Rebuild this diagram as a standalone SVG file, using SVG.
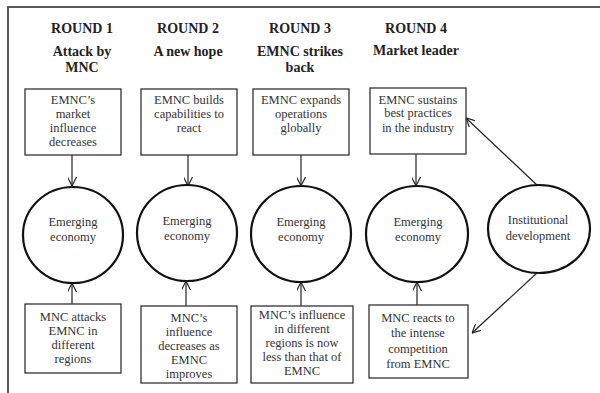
<svg xmlns="http://www.w3.org/2000/svg" width="600" height="393" viewBox="0 0 600 393">
<style>
.frame{fill:none;stroke:#5a5a5a;stroke-width:2}
.box{fill:#fff;stroke:#333;stroke-width:1.3}
.ell{fill:#fff;stroke:#111;stroke-width:2.2}
text{font-family:'Liberation Serif','Times New Roman',serif}
.t{font-size:12.5px;fill:#333;text-anchor:middle}
.h{font-size:14px;font-weight:bold;fill:#222;text-anchor:middle}
.c{fill:none;stroke:#222;stroke-width:1.2}
</style>
<defs>
<marker id="arr" viewBox="0 0 10 10" refX="10" refY="5" markerWidth="9" markerHeight="9" markerUnits="userSpaceOnUse" orient="auto">
<path d="M0,0 L10,5 L0,10" fill="none" stroke="#222" stroke-width="1.3"/>
</marker>
</defs>
<rect width="600" height="393" fill="#fff"/>
<path class="frame" d="M8,393 V7 H600"/>

<g id="titles">
<text class="h" x="82" y="33">ROUND 1</text>
<text class="h" x="82" y="56">Attack by</text>
<text class="h" x="82" y="72">MNC</text>
<text class="h" x="188" y="33">ROUND 2</text>
<text class="h" x="188" y="56">A new hope</text>
<text class="h" x="300" y="33">ROUND 3</text>
<text class="h" x="300" y="56">EMNC strikes</text>
<text class="h" x="300" y="72">back</text>
<text class="h" x="416" y="33">ROUND 4</text>
<text class="h" x="416" y="55">Market leader</text>
</g>

<g id="connectors">
<line class="c" x1="72" y1="155" x2="72" y2="186" marker-end="url(#arr)"/>
<line class="c" x1="188" y1="155" x2="188" y2="186" marker-end="url(#arr)"/>
<line class="c" x1="301" y1="155" x2="301" y2="186" marker-end="url(#arr)"/>
<line class="c" x1="416" y1="154" x2="416" y2="186" marker-end="url(#arr)"/>
<line class="c" x1="72" y1="304" x2="72" y2="283" marker-end="url(#arr)"/>
<line class="c" x1="186" y1="306" x2="186" y2="281" marker-end="url(#arr)"/>
<line class="c" x1="301" y1="306" x2="301" y2="282" marker-end="url(#arr)"/>
<line class="c" x1="417" y1="305" x2="417" y2="282" marker-end="url(#arr)"/>
<line class="c" x1="538" y1="186" x2="466" y2="118" marker-end="url(#arr)"/>
<line class="c" x1="538" y1="272" x2="472" y2="333" marker-end="url(#arr)"/>
</g>

<g id="top1"><rect class="box" x="25" y="89" width="96" height="66"/>
<text class="t" x="73" y="104">EMNC’s</text><text class="t" x="73" y="118">market</text><text class="t" x="73" y="132">influence</text><text class="t" x="73" y="146">decreases</text></g>
<g id="top2"><rect class="box" x="141" y="89" width="96" height="66"/>
<text class="t" x="189" y="104">EMNC builds</text><text class="t" x="189" y="118">capabilities to</text><text class="t" x="189" y="132">react</text></g>
<g id="top3"><rect class="box" x="253" y="89" width="96" height="66"/>
<text class="t" x="301" y="104">EMNC expands</text><text class="t" x="301" y="118">operations</text><text class="t" x="301" y="132">globally</text></g>
<g id="top4"><rect class="box" x="370" y="88" width="96" height="66"/>
<text class="t" x="418" y="104">EMNC sustains</text><text class="t" x="418" y="117">best practices</text><text class="t" x="418" y="132">in the industry</text></g>

<g id="e1"><ellipse class="ell" cx="73" cy="235" rx="50" ry="48"/>
<text class="t" x="73" y="226">Emerging</text><text class="t" x="73" y="241">economy</text></g>
<g id="e2"><ellipse class="ell" cx="187" cy="233" rx="50" ry="48"/>
<text class="t" x="187" y="225">Emerging</text><text class="t" x="187" y="240">economy</text></g>
<g id="e3"><ellipse class="ell" cx="301" cy="234" rx="50" ry="48"/>
<text class="t" x="301" y="226">Emerging</text><text class="t" x="301" y="241">economy</text></g>
<g id="e4"><ellipse class="ell" cx="417" cy="234" rx="51" ry="48"/>
<text class="t" x="418" y="226">Emerging</text><text class="t" x="418" y="241">economy</text></g>
<g id="e5"><ellipse class="ell" cx="539" cy="229" rx="51" ry="44"/>
<text class="t" x="538" y="224">Institutional</text><text class="t" x="538" y="240">development</text></g>

<g id="bot1"><rect class="box" x="25" y="304" width="96" height="69"/>
<text class="t" x="73" y="321">MNC attacks</text><text class="t" x="73" y="335">EMNC in</text><text class="t" x="73" y="349">different</text><text class="t" x="73" y="363">regions</text></g>
<g id="bot2"><rect class="box" x="141" y="306" width="96" height="77"/>
<text class="t" x="189" y="322">MNC’s</text><text class="t" x="189" y="336">influence</text><text class="t" x="189" y="350">decreases as</text><text class="t" x="189" y="364">EMNC</text><text class="t" x="189" y="378">improves</text></g>
<g id="bot3"><rect class="box" x="251" y="306" width="102" height="77"/>
<text class="t" x="302" y="319">MNC’s influence</text><text class="t" x="302" y="333">in different</text><text class="t" x="302" y="347">regions is now</text><text class="t" x="302" y="361">less than that of</text><text class="t" x="302" y="375">EMNC</text></g>
<g id="bot4"><rect class="box" x="369" y="305" width="99" height="73"/>
<text class="t" x="418" y="322">MNC reacts to</text><text class="t" x="418" y="337">the intense</text><text class="t" x="418" y="353">competition</text><text class="t" x="418" y="368">from EMNC</text></g>
</svg>
